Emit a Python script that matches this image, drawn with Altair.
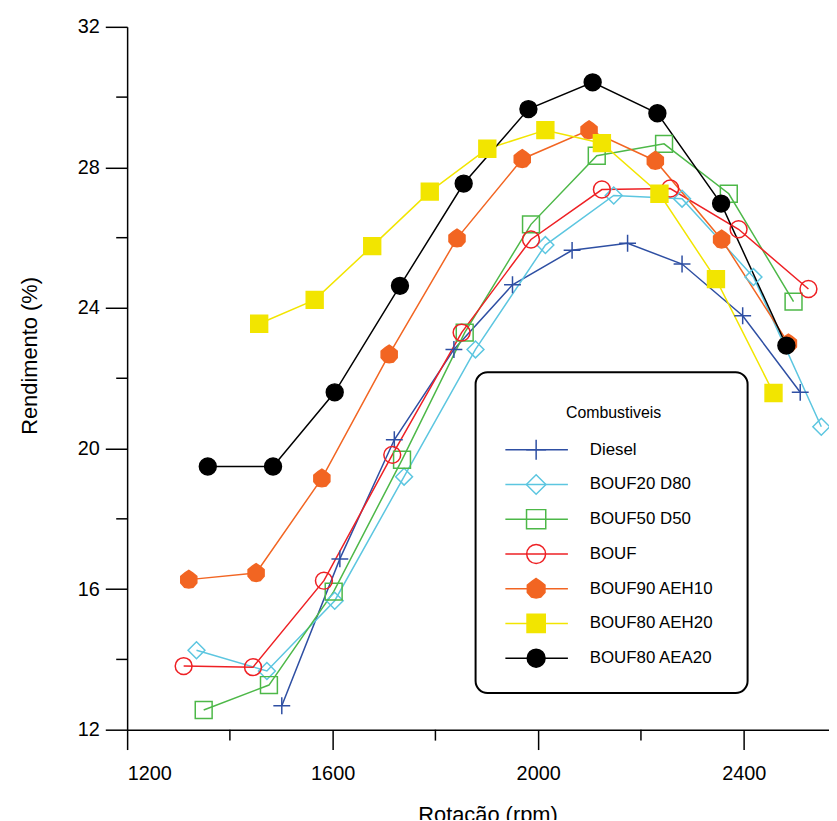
import altair as alt
import pandas as pd

# ---------------- data ----------------
series = ["Diesel", "BOUF20 D80", "BOUF50 D50", "BOUF", "BOUF90 AEH10", "BOUF80 AEH20", "BOUF80 AEA20"]
colors = ["#2E4FA3", "#5CC6E0", "#4DB848", "#EE2024", "#F26522", "#F2E500", "#000000"]

diesel_x = [1501, 1614, 1720, 1836, 1950, 2066, 2174, 2280, 2398, 2510]
diesel_y = [12.68, 16.86, 20.25, 22.82, 24.66, 25.64, 25.84, 25.25, 23.78, 21.60]

b20_x = [1335, 1472, 1604, 1739, 1878, 2014, 2147, 2280, 2419, 2551]
b20_y = [14.26, 13.67, 15.67, 19.20, 22.82, 25.79, 27.20, 27.11, 24.88, 20.62]

b50_x = [1349, 1476, 1602, 1735, 1857, 1986, 2114, 2245, 2371, 2497]
b50_y = [12.56, 13.27, 15.93, 19.68, 23.30, 26.38, 28.33, 28.67, 27.25, 24.18]

bouf_x = [1310, 1445, 1583, 1716, 1851, 1986, 2124, 2257, 2390, 2526]
bouf_y = [13.81, 13.78, 16.24, 19.82, 23.30, 25.95, 27.37, 27.40, 26.24, 24.54]

aeh10_x = [1320, 1451, 1579, 1710, 1842, 1969, 2099, 2228, 2357, 2487]
aeh10_y = [16.27, 16.46, 19.15, 22.68, 25.98, 28.24, 29.06, 28.19, 25.95, 22.99]

aeh20_x = [1457, 1565, 1677, 1789, 1901, 2014, 2124, 2236, 2346, 2458]
aeh20_y = [23.55, 24.23, 25.76, 27.31, 28.53, 29.06, 28.69, 27.25, 24.82, 21.58]

aea20_x = [1357, 1484, 1604, 1731, 1855, 1981, 2106, 2232, 2356, 2483]
aea20_y = [19.49, 19.49, 21.60, 24.63, 27.54, 29.66, 30.42, 29.54, 26.97, 22.93]

x_major = [1200, 1600, 2000, 2400]
x_minor = [1400, 1800, 2200]
y_major = [12, 16, 20, 24, 28, 32]
y_minor = [14, 18, 22, 26, 30]

legend_title = "Combustiveis"

# marker styling per series
plus_path = "M-1,0H1M0,-1V1"
blob_path = "M0,-1.1L0.45,-0.8L0.95,-0.4L0.95,0.4L0.5,0.9L0,1L-0.5,0.9L-0.95,0.4L-0.95,-0.4L-0.45,-0.8Z"
shapes = [plus_path, "diamond", "square", "circle", blob_path, "square", "circle"]
fills = ["transparent", "transparent", "transparent", "transparent", "#F26522", "#F2E500", "#000000"]
sizes = [289, 289, 240, 256, 289, 324, 324]
leg_sizes = [400, 324, 289, 300, 361, 400, 400]

# ---------------- build table ----------------
all_x = [diesel_x, b20_x, b50_x, bouf_x, aeh10_x, aeh20_x, aea20_x]
all_y = [diesel_y, b20_y, b50_y, bouf_y, aeh10_y, aeh20_y, aea20_y]
rows = []
for name, xs, ys in zip(series, all_x, all_y):
    for i, (xv, yv) in enumerate(zip(xs, ys)):
        rows.append({"series": name, "rpm": xv, "rend": yv, "order": i})
df = pd.DataFrame(rows)

FONT = "Liberation Sans"
W, H = 707, 708

xscale = alt.Scale(domain=[1200, 2566], nice=False, zero=False)
yscale = alt.Scale(domain=[12, 32], nice=False, zero=False)

xaxis = alt.Axis(values=x_major, format="d", tickSize=20, tickWidth=1.5, domainWidth=1.5,
                 labelFontSize=20, labelPadding=14, labelFont=FONT, grid=False,
                 title="Rotação (rpm)", titleFont=FONT, titleFontSize=22,
                 titleFontWeight="normal", titleX=363, titleY=92,
                 titleBaseline="alphabetic", titleAnchor="start", titleAlign="center")
yaxis = alt.Axis(values=y_major, format="d", tickSize=22, tickWidth=1.5, domainWidth=1.5,
                 labelFontSize=20, labelPadding=6, labelFont=FONT, grid=False,
                 title="Rendimento (%)", titleFont=FONT, titleFontSize=22,
                 titleFontWeight="normal", titleX=-98, titleY=331,
                 titleAlign="center", titleBaseline="middle", titleAnchor="start")

color_scale = alt.Scale(domain=series, range=colors)
shape_scale = alt.Scale(domain=series, range=shapes)
fill_scale = alt.Scale(domain=series, range=fills)

base = alt.Chart(df)
lines = base.mark_line(strokeWidth=1.5).encode(
    x=alt.X("rpm:Q", scale=xscale, axis=xaxis),
    y=alt.Y("rend:Q", scale=yscale, axis=yaxis),
    color=alt.Color("series:N", scale=color_scale, legend=None),
    order="order:Q",
)
points = base.mark_point(opacity=1, strokeWidth=1.5).encode(
    x=alt.X("rpm:Q", scale=xscale, axis=xaxis),
    y=alt.Y("rend:Q", scale=yscale, axis=yaxis),
    shape=alt.Shape("series:N", scale=shape_scale, legend=None),
    fill=alt.Fill("series:N", scale=fill_scale, legend=None),
    stroke=alt.Stroke("series:N", scale=color_scale, legend=None),
    size=alt.Size("series:N", scale=alt.Scale(domain=series, range=sizes), legend=None),
)

ymin_ticks = alt.Chart(pd.DataFrame({"rend": y_minor})).mark_rule(color="black", strokeWidth=1.5).encode(
    y=alt.Y("rend:Q", scale=yscale, axis=yaxis),
    x=alt.value(-11), x2=alt.value(0),
)
xmin_ticks = alt.Chart(pd.DataFrame({"rpm": x_minor})).mark_rule(color="black", strokeWidth=1.5).encode(
    x=alt.X("rpm:Q", scale=xscale, axis=xaxis),
    y=alt.value(H), y2=alt.value(H + 11),
)

main = alt.layer(lines, points, ymin_ticks, xmin_ticks)

# ---------------- legend ----------------
leg_df = pd.DataFrame({"series": series})
one = pd.DataFrame({"t": [legend_title]})
legY = alt.Y("series:N", sort=series,
             scale=alt.Scale(type="point", domain=series, range=[426, 636], padding=0),
             axis=None)

box = alt.Chart(one).mark_rect(fill="white", stroke="black", strokeWidth=2, cornerRadius=12).encode(
    x=alt.value(351), x2=alt.value(625), y=alt.value(348), y2=alt.value(671))
ltitle = alt.Chart(one).mark_text(font=FONT, fontSize=16, align="center", baseline="middle").encode(
    x=alt.value(490), y=alt.value(389), text="t:N")
llines = alt.Chart(leg_df).mark_rule(strokeWidth=1.5).encode(
    x=alt.value(381), x2=alt.value(444), y=legY,
    color=alt.Color("series:N", scale=color_scale, legend=None))
lmarks = alt.Chart(leg_df).mark_point(opacity=1, strokeWidth=1.5).encode(
    x=alt.value(412), y=legY,
    shape=alt.Shape("series:N", scale=shape_scale, legend=None),
    fill=alt.Fill("series:N", scale=fill_scale, legend=None),
    stroke=alt.Stroke("series:N", scale=color_scale, legend=None),
    size=alt.Size("series:N", scale=alt.Scale(domain=series, range=leg_sizes), legend=None))
llabels = alt.Chart(leg_df).mark_text(font=FONT, fontSize=17, align="left", baseline="middle").encode(
    x=alt.value(466), y=legY, text="series:N")

legend = alt.layer(box, ltitle, llines, lmarks, llabels)

chart = alt.layer(main, legend).resolve_scale(y="independent", size="independent").properties(
    width=W, height=H,
    autosize=alt.AutoSizeParams(type="none"),
    padding={"left": 120, "top": 16, "right": 0, "bottom": 88},
).configure_view(stroke=None).configure_axis(
    domainColor="black", tickColor="black", labelColor="black", titleColor="black"
)

chart.save("out.html", embed_options={"renderer": "svg", "actions": False})
